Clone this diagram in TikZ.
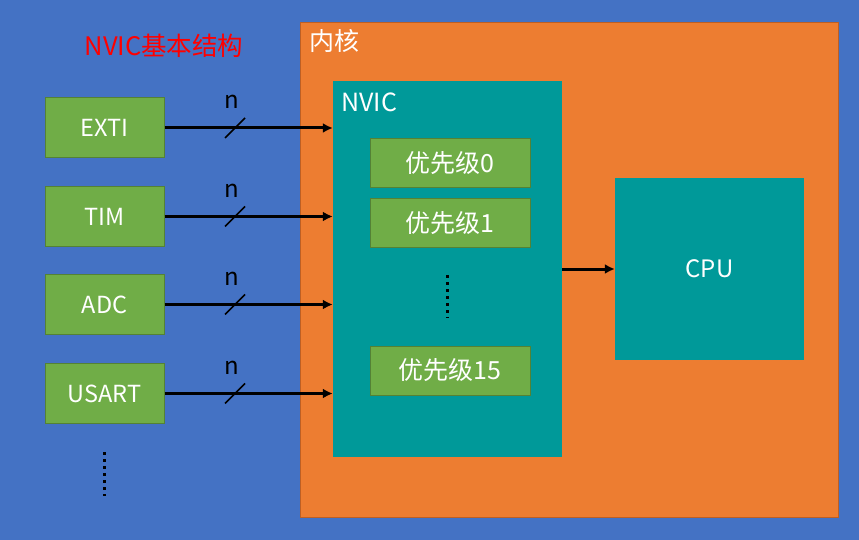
\documentclass[tikz,border=0pt]{standalone}
\usepackage{fontspec}
\setmainfont{Noto Sans CJK SC}
\usetikzlibrary{arrows.meta,positioning}

\definecolor{bgblue}{RGB}{68,114,196}
\definecolor{coreorange}{RGB}{237,125,49}
\definecolor{coreedge}{RGB}{190,95,35}
\definecolor{nvicteal}{RGB}{0,153,153}
\definecolor{srcgreen}{RGB}{112,173,71}
\definecolor{srcedge}{RGB}{84,130,53}

\tikzset{
  srcbox/.style={draw=srcedge, fill=srcgreen, text=white, line width=1pt,
    minimum width=119pt, minimum height=60pt, inner sep=0pt, font=\fontsize{23.5}{26}\selectfont},
  prio/.style={draw=srcedge, fill=srcgreen, text=white, line width=1pt,
    minimum width=160pt, minimum height=49pt, inner sep=0pt, font=\fontsize{25}{28}\selectfont},
  bus/.style={line width=3pt, -{Latex[length=10pt,width=10pt]}},
  slash/.style={line width=1.5pt},
  buslabel/.style={font=\fontsize{24}{26}\selectfont, inner sep=0pt},
}

\begin{document}
\begin{tikzpicture}[x=1pt, y=-1pt]
      \fill[bgblue] (0,0) rectangle (859,540);
      \useasboundingbox (0,0) rectangle (859,540);
      \node[text=red, font=\fontsize{25.5}{28}\selectfont] (title) at (164,46) {NVIC基本结构};

      % core and its blocks
      \node[draw=coreedge, fill=coreorange, minimum width=538pt, minimum height=495pt, inner sep=0pt] (core) at (569,269.5) {};
      \node[anchor=west, text=white, font=\fontsize{25}{28}\selectfont] (corelabel) at (306,41) {内核};
      \node[fill=nvicteal, minimum width=229pt, minimum height=376pt, inner sep=0pt] (nvic) at (447.5,269) {};
      \node[anchor=west, text=white, font=\fontsize{25}{28}\selectfont] (nviclabel) at (338,102) {NVIC};
      \node[prio] (p0) at (450,163.5) {优先级0};
      \node[prio] (p1) at (450,223) {优先级1};
      \node[prio] (p15) at (450,370.5) {优先级15};
      \coordinate (pdotA) at (447,275);
      \coordinate (pdotB) at (447,318);
      \draw[line width=3pt, dash pattern=on 3pt off 4pt] (pdotA) -- (pdotB);
      \node[fill=nvicteal, text=white, minimum width=189pt, minimum height=182pt, inner sep=0pt,
        font=\fontsize{24}{26}\selectfont] (cpu) at (709.5,269) {CPU};
      \draw[bus] (nvic.east |- cpu.west) -- (cpu.west);

      % interrupt sources
      \node[srcbox] (exti) at (104.5,128) {EXTI};
      \node[srcbox] (tim) at (104.5,216.5) {TIM};
      \node[srcbox] (adc) at (104.5,304.5) {ADC};
      \node[srcbox] (usart) at (104.5,393.5) {USART};
      \coordinate (ldotA) at (104,452);
      \coordinate (ldotB) at (104,496);
      \draw[line width=3pt, dash pattern=on 3pt off 4pt] (ldotA) -- (ldotB);

      \draw[bus] (exti.east) -- (exti.east -| nvic.west);
      \draw[bus] (tim.east) -- (tim.east -| nvic.west);
      \draw[bus] (adc.east) -- (adc.east -| nvic.west);
      \draw[bus] (usart.east) -- (usart.east -| nvic.west);

      \coordinate (sexti) at (235,128);
      \coordinate (stim) at (235,216.5);
      \coordinate (sadc) at (235,304.5);
      \coordinate (susart) at (235,393.5);
      \draw[slash] ([shift={(-10,10)}]sexti) -- ([shift={(10,-10)}]sexti);
      \draw[slash] ([shift={(-10,10)}]stim) -- ([shift={(10,-10)}]stim);
      \draw[slash] ([shift={(-10,10)}]sadc) -- ([shift={(10,-10)}]sadc);
      \draw[slash] ([shift={(-10,10)}]susart) -- ([shift={(10,-10)}]susart);
      \node[buslabel] (nexti) at ([shift={(-3,-26)}]sexti) {n};
      \node[buslabel] (ntim) at ([shift={(-3,-26)}]stim) {n};
      \node[buslabel] (nadc) at ([shift={(-3,-26)}]sadc) {n};
      \node[buslabel] (nusart) at ([shift={(-3,-26)}]susart) {n};
\end{tikzpicture}
\end{document}
